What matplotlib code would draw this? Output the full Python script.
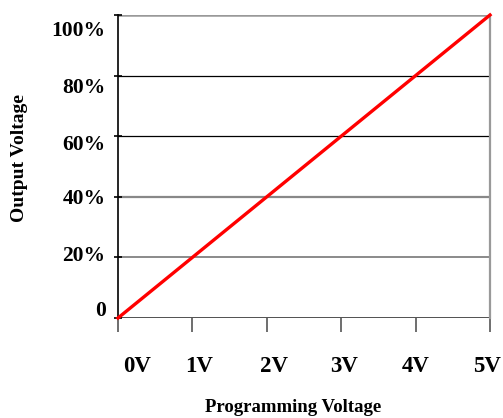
import numpy as np
import matplotlib
matplotlib.use("Agg")
from matplotlib import pyplot as plt

plt.rcParams['font.family'] = ['Liberation Serif', 'DejaVu Serif']
plt.rcParams['font.weight'] = 'bold'

# data
volts = [0, 1, 2, 3, 4, 5]
output_pct = [0, 20, 40, 60, 80, 100]
x_labels = ['0V', '1V', '2V', '3V', '4V', '5V']
y_labels = ['0', '20%', '40%', '60%', '80%', '100%']

# label spots are spaced a bit tighter than the grid in the original
x_label_pos = [0.26, 1.09, 2.1, 3.04, 4.0, 4.96]
y_label_pos = [3.3, 21.3, 40, 58, 76.7, 95.7]

fig = plt.figure(figsize=(5.03, 4.18), dpi=100)
ax = fig.add_axes([118 / 503, 1 - 318 / 418, 372 / 503, 303 / 418])

# grid lines, styled one by one like the original
grid_style = [('#333333', 1.2), ('#777777', 1.2), ('#888888', 1.6),
              ('#000000', 0.9), ('#000000', 0.9), ('#999999', 1.8)]
for yv, (c, lw) in zip(output_pct, grid_style):
    ax.axhline(yv, color=c, lw=lw, zorder=1)

ax.plot(volts, output_pct, color='#ff0000', lw=2.4, zorder=3, clip_on=False)

ax.set_xlim(0, 5)
ax.set_ylim(0, 100)

for s in ['top', 'bottom']:
    ax.spines[s].set_visible(False)
ax.spines['right'].set_color('#999999')
ax.spines['right'].set_linewidth(1.6)
ax.spines['left'].set_color('black')
ax.spines['left'].set_linewidth(1.2)

ax.xaxis.remove_overlapping_locs = False
ax.yaxis.remove_overlapping_locs = False

# ticks without labels
ax.set_xticks(volts)
ax.set_xticklabels([''] * len(volts))
ax.tick_params(axis='x', which='major', direction='out', length=10, width=1.2, color='#555555')
ax.set_yticks(output_pct)
ax.set_yticklabels([''] * len(output_pct))
ax.tick_params(axis='y', which='major', direction='inout', length=6, width=1.2, color='black')

# labels on minor ticks
ax.set_xticks(x_label_pos, minor=True)
ax.set_xticklabels(x_labels, minor=True, fontsize=16.5, fontweight='bold')
ax.tick_params(axis='x', which='minor', length=0, pad=27)
ax.set_yticks(y_label_pos, minor=True)
ax.set_yticklabels(y_labels, minor=True, fontsize=15.5, fontweight='bold')
ax.tick_params(axis='y', which='minor', length=0, pad=9)

fig.text(293 / 503, 1 - 407 / 418, 'Programming Voltage', ha='center', va='center',
         fontsize=13.5, fontweight='bold')
fig.text(20 / 503, 1 - 158 / 418, 'Output Voltage', ha='center', va='center',
         rotation=90, fontsize=14, fontweight='bold')

plt.savefig('out.png', dpi=100)
